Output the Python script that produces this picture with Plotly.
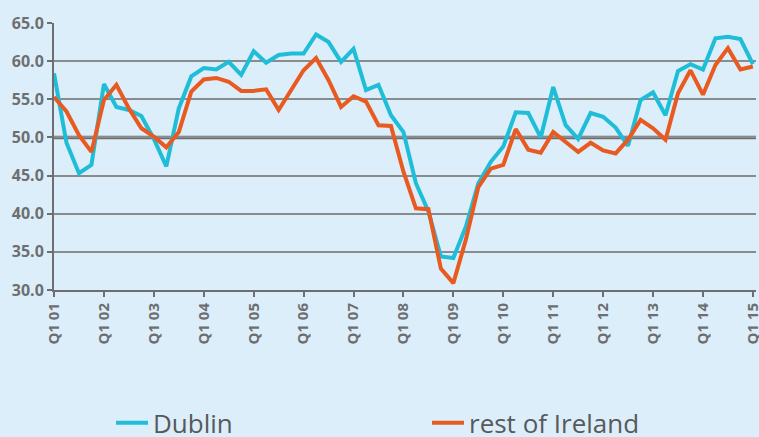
import plotly.graph_objects as go

# quarterly index, Q1 2001 .. Q1 2015
quarters = list(range(57))
year_ticks = list(range(0, 57, 4))
year_labels = ["Q1 %02d" % y for y in range(1, 16)]

dublin = [58.4, 49.3, 45.3, 46.4, 57.0, 54.0, 53.6, 52.8, 49.8, 46.2,
          53.8, 58.0, 59.1, 58.9, 59.9, 58.2, 61.3, 59.8, 60.8, 61.0,
          61.0, 63.5, 62.5, 59.9, 61.6, 56.2, 56.9, 52.9, 50.7, 44.0,
          40.3, 34.4, 34.2, 38.3, 44.0, 46.8, 48.8, 53.3, 53.2, 50.0,
          56.6, 51.6, 49.8, 53.2, 52.7, 51.3, 48.9, 54.9, 55.9, 52.9,
          58.7, 59.6, 58.9, 63.0, 63.2, 62.9, 59.6]

rest_of_ireland = [55.3, 53.4, 50.3, 48.1, 54.9, 56.9, 53.8, 51.2, 50.1, 48.7,
                   50.7, 56.0, 57.6, 57.8, 57.3, 56.1, 56.1, 56.3, 53.6, 56.2,
                   58.8, 60.4, 57.5, 54.0, 55.4, 54.7, 51.6, 51.5, 45.5, 40.7,
                   40.6, 32.8, 30.9, 36.6, 43.5, 45.9, 46.4, 51.1, 48.4, 48.0,
                   50.7, 49.4, 48.1, 49.3, 48.3, 47.9, 49.7, 52.3, 51.2, 49.7,
                   55.8, 58.8, 55.6, 59.5, 61.7, 58.9, 59.3]

bg = "#dbeefa"
grey = "#6e6e70"

fig = go.Figure()
fig.add_trace(go.Scatter(x=quarters, y=dublin, name="Dublin", mode="lines",
                         line=dict(color="#1fbdd8", width=4), legend="legend"))
fig.add_trace(go.Scatter(x=quarters, y=rest_of_ireland, name="rest of Ireland", mode="lines",
                         line=dict(color="#e85a20", width=4), legend="legend2"))

# heavier reference line at 50
fig.add_shape(type="line", xref="paper", x0=0, x1=1, yref="y", y0=50, y1=50,
              line=dict(color=grey, width=3.5), layer="between")

leg = dict(orientation="h", xref="container", yref="paper", y=-0.498,
           xanchor="left", yanchor="middle",
           font=dict(size=26, color="#58595b"), itemwidth=32,
           bgcolor="rgba(0,0,0,0)")

fig.update_layout(
    width=759, height=437,
    margin=dict(l=54, r=3, t=23, b=147, autoexpand=False),
    paper_bgcolor=bg, plot_bgcolor=bg,
    font=dict(family="Open Sans", color=grey),
    showlegend=True,
    legend=dict(leg, x=111 / 759),
    legend2=dict(leg, x=427 / 759),
)
fig.update_xaxes(range=[0, 56.25], tickvals=year_ticks, ticktext=year_labels,
                 tickangle=-90, ticklabeloverflow="allow",
                 showgrid=False, showline=True, linecolor=grey, linewidth=2,
                 ticks="outside", ticklen=5, tickwidth=2, tickcolor=grey,
                 tickfont=dict(size=15, color=grey, family="Open Sans", weight="bold"))
fig.update_yaxes(range=[30, 65], dtick=5, tickformat=".1f",
                 showgrid=True, gridcolor="#8a8b8d", gridwidth=1.5,
                 showline=True, linecolor=grey, linewidth=2,
                 ticks="outside", ticklen=5, tickwidth=2, tickcolor=grey,
                 tickfont=dict(size=16, color=grey, family="Open Sans", weight="bold"),
                 zeroline=False)

# drop the default 8px page margin so the figure sits at the window's corner
fig.write_html("out.html", config={"displayModeBar": False},
               post_script="document.body.style.margin='0';")
